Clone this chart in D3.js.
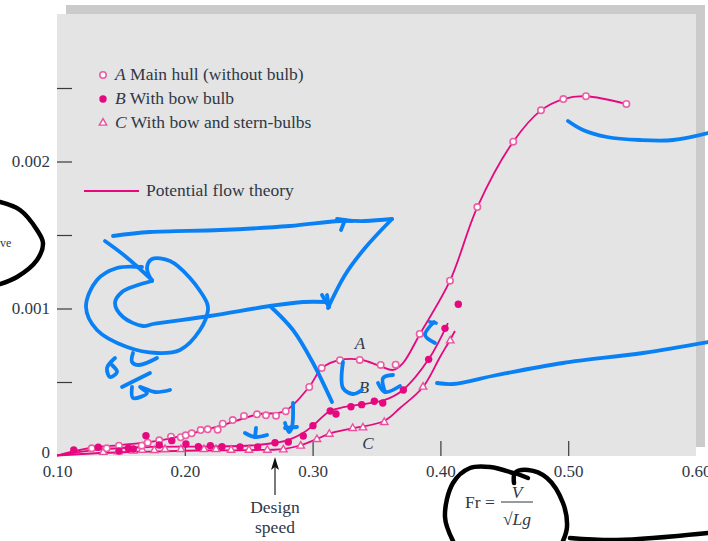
<!DOCTYPE html>
<html>
<head>
  <meta charset="UTF-8">
  <title>Wave resistance vs Froude number</title>
  <script src="https://d3js.org/d3.v7.min.js"></script>
  <style>
    html, body { margin: 0; padding: 0; background: #fff; overflow: hidden; }
    svg { display: block; }
    text { font-family: "Liberation Serif", serif; fill: #2f3846; }
    .it { font-style: italic; }
    .axis line { stroke: #3a3a3a; stroke-width: 1.2; }
    .axis text { font-size: 17px; font-family: "Liberation Serif", serif; fill: #2f3846; }
    .scribble { fill: none; stroke-linecap: round; stroke-linejoin: round; }
  </style>
</head>
<body>
  <div id="chart"></div>
  <script>
    // measured hull points, [Fr, coefficient]
    const pointsA = [[.1272,.000049],[.1389,.000049],[.1485,.000067],[.1663,.000067],[.1710,.000087],[.1800,.000103],[.1892,.000128],[.1968,.000124],[.2007,.000137],[.2054,.000151],[.2124,.000173],[.2179,.000178],[.2257,.000176],[.2297,.000216],[.2375,.000241],[.2463,.000269],[.2565,.000280],[.2635,.000273],[.2714,.000271],[.2790,.000301],[.2974,.000466],[.3071,.000595],[.3214,.000648],[.3369,.000650],[.3533,.000616],[.3650,.000618],[.3838,.000827],[.4075,.001189],[.4289,.001690],[.4570,.002135],[.4787,.002348],[.4962,.002425],[.5139,.002444],[.5455,.002391]];
    const pointsB = [[.1131,.000037],[.1323,.000056],[.1485,.000031],[.1558,.000049],[.1597,.000044],[.1696,.000135],[.1800,.000071],[.1898,.000101],[.2009,.000078],[.2106,.000060],[.2200,.000067],[.2291,.000060],[.2432,.000058],[.2570,.000058],[.2706,.000087],[.2810,.000092],[.2927,.000133],[.3003,.000203],[.3138,.000303],[.3183,.000282],[.3300,.000332],[.3384,.000346],[.3483,.000369],[.3549,.000357],[.3710,.000446],[.3908,.000654],[.4036,.000865],[.4140,.001029]];
    const pointsC = [[.1362,.000022],[.1480,.000026],[.1597,.000031],[.1667,.000037],[.1761,.000035],[.1845,.000042],[.1970,.000042],[.2150,.000042],[.2244,.000042],[.2362,.000037],[.2502,.000037],[.2646,.000037],[.2771,.000039],[.2907,.000065],[.3034,.000110],[.3131,.000146],[.3314,.000185],[.3394,.000189],[.3561,.000226],[.3864,.000466],[.4077,.000781]];

    // potential flow theory curves
    const theoryA = [[.10,0],[.1258,.000051],[.1493,.000071],[.1728,.000092],[.2002,.000139],[.2275,.000201],[.2565,.000279],[.2784,.000303],[.2972,.000466],[.3074,.000595],[.3214,.00065],[.3371,.000653],[.3527,.000609],[.3629,.000582],[.3707,.000629],[.3840,.000827],[.4075,.001189],[.4289,.00169],[.4570,.002135],[.4787,.002348],[.4962,.002425],[.5139,.002444],[.5455,.002391]];
    const theoryB = [[.10,0],[.1336,.000041],[.1728,.000058],[.2119,.000061],[.2510,.000068],[.2698,.000085],[.2808,.000105],[.2925,.000153],[.3003,.000203],[.3136,.000303],[.3254,.00033],[.3449,.000357],[.3566,.000378],[.3707,.000446],[.3909,.000656],[.4059,.000901]];
    const theoryC = [[.10,0],[.1336,.000017],[.1728,.000027],[.2119,.000034],[.2510,.000037],[.2768,.000044],[.2901,.000068],[.3034,.000112],[.3136,.00015],[.3308,.000184],[.3559,.000235],[.3684,.000323],[.3864,.000466],[.3997,.000670],[.4075,.000786],[.4114,.000847]];

    const xTicks = [0.10, 0.20, 0.30, 0.40, 0.50, 0.60];
    const yTicks = [0, 0.0005, 0.001, 0.0015, 0.002, 0.0025];
    const yLabels = { 0: "0", 0.001: "0.001", 0.002: "0.002" };
    const legendRows = [
      { sym: "A", kind: "circle", text: " Main hull (without bulb)" },
      { sym: "B", kind: "dot", text: " With bow bulb" },
      { sym: "C", kind: "tri", text: " With bow and stern-bulbs" }
    ];

    // pen strokes written over the figure (pixel positions on the page)
    const blueStrokes = [
      [[113,236],[150,232],[220,230],[290,226],[340,221],[365,221],[392,219]],
      [[392,219],[365,248],[345,275],[328,308]],
      [[105,241],[125,256],[152,280]],
      [[337,219],[352,221]], [[345,220],[341,230]],
      [[322,295],[329,307]], [[327,295],[329,307]],
      [[142,267],[117,268],[97,280],[86,307],[97,330],[127,347],[157,353],[180,350],[200,330],[208,310],[207,303],[190,278],[170,261],[152,259],[147,268],[152,281]],
      [[152,281],[135,286],[122,292],[115,303],[123,317],[143,326],[153,324],[210,316],[270,306],[303,302],[328,302]],
      [[270,306],[293,330],[313,363],[332,402]],
      [[133,353],[132,362],[139,365],[157,358]],
      [[115,358],[107,368],[110,377],[117,372],[112,365]],
      [[150,373],[122,387]],
      [[132,387],[133,398],[147,393],[140,387],[155,392],[170,390]],
      [[256,428],[255,437]], [[245,433],[255,437],[267,435]],
      [[293,403],[292,427],[289,432],[285,423]], [[285,428],[297,427]],
      [[343,362],[343,388],[353,394],[362,390]],
      [[393,375],[383,378],[385,392]], [[378,383],[385,392],[400,386]],
      [[434,322],[425,335],[435,343]], [[430,322],[436,323]],
      [[568,121],[583,130],[607,137],[640,140],[673,140],[708,133]],
      [[437,383],[453,384],[497,375],[563,363],[643,353],[708,342]]
    ];
    const blackStrokes = [
      [[0,202],[20,210],[37,230],[43,243],[37,260],[17,277],[0,284]],
      [[453,541],[445,517],[453,483],[470,468],[490,467],[513,473]],
      [[514,483],[515,473],[528,470],[547,478],[563,503],[567,527],[563,541]],
      [[515,473],[528,478]],
      [[570,538],[617,540],[708,533]]
    ];

    const pink = "#e5087e";
    const width = 708, height = 541;

    const x = d3.scaleLinear().domain([0.10, 0.60]).range([57, 696]);
    const y = d3.scaleLinear().domain([0, 0.003]).range([455.5, 14.5]);

    const svg = d3.select("#chart").append("svg")
      .attr("width", width)
      .attr("height", height);

    // shadow panel behind the plot
    svg.append("rect").attr("x", 66).attr("y", 5).attr("width", 639).attr("height", 442).attr("fill", "#cbcbcb");
    svg.append("rect").attr("x", 57).attr("y", 14).attr("width", 639).attr("height", 442).attr("fill", "#e4e4e4");

    const xAxis = svg.append("g")
      .attr("class", "axis")
      .attr("transform", "translate(0,456)")
      .call(d3.axisBottom(x).tickValues(xTicks).tickSize(-15).tickPadding(9).tickFormat(d3.format(".2f")));
    xAxis.select(".domain").remove();
    xAxis.selectAll(".tick").filter(d => d === 0.10 || d === 0.60).select("line").remove();

    const yAxis = svg.append("g")
      .attr("class", "axis")
      .attr("transform", "translate(57,0)")
      .call(d3.axisLeft(y).tickValues(yTicks).tickSize(-15).tickPadding(7).tickFormat(d => yLabels[d] || ""));
    yAxis.select(".domain").remove();
    yAxis.selectAll(".tick").filter(d => d === 0).select("line").remove();
    yAxis.selectAll(".tick").filter(d => d === 0).select("text").attr("dy", "0.1em");

    const lineGen = d3.line().x(d => x(d[0])).y(d => y(d[1])).curve(d3.curveCatmullRom.alpha(0.5));

    [theoryA, theoryB, theoryC].forEach(s => {
      svg.append("path")
        .attr("d", lineGen(s))
        .attr("fill", "none")
        .attr("stroke", pink)
        .attr("stroke-width", 1.8);
    });

    const triangle = d3.symbol().type(d3.symbolTriangle).size(24);
    const drawMark = (sel, kind) => {
      if (kind === "dot") {
        sel.append("circle").attr("r", 3.7).attr("fill", pink);
      } else if (kind === "circle") {
        sel.append("circle").attr("r", 3.2).attr("fill", "#fff").attr("stroke", "#ea5fa5").attr("stroke-width", 1.6);
      } else {
        sel.append("path").attr("d", triangle).attr("fill", "#fff").attr("stroke", "#ea4f9d").attr("stroke-width", 1.4);
      }
    };

    const addPoints = (data, kind) => {
      svg.append("g").selectAll("g")
        .data(data)
        .enter()
        .append("g")
        .attr("transform", d => `translate(${x(d[0])},${y(d[1])})`)
        .call(drawMark, kind);
    };
    addPoints(pointsC, "tri");
    addPoints(pointsA, "circle");
    addPoints(pointsB, "dot");

    // legend
    legendRows.forEach((r, i) => {
      const yy = 75 + i * 24;
      svg.append("g").attr("transform", `translate(103,${yy})`).call(drawMark, r.kind);
      const t = svg.append("text").attr("x", 115).attr("y", yy + 5).attr("font-size", 17.5).attr("xml:space", "preserve");
      t.append("tspan").attr("class", "it").text(r.sym);
      t.append("tspan").text(r.text);
    });
    svg.append("line").attr("x1", 84).attr("x2", 139).attr("y1", 191).attr("y2", 191).attr("stroke", pink).attr("stroke-width", 2);
    svg.append("text").attr("x", 146).attr("y", 196).attr("font-size", 17.5).text("Potential flow theory");

    // curve letters
    svg.append("text").attr("class", "it").attr("x", 360).attr("y", 349).attr("font-size", 17).attr("text-anchor", "middle").text("A");
    svg.append("text").attr("class", "it").attr("x", 364).attr("y", 393).attr("font-size", 17).attr("text-anchor", "middle").text("B");
    svg.append("text").attr("class", "it").attr("x", 368).attr("y", 449).attr("font-size", 17).attr("text-anchor", "middle").text("C");

    // design speed arrow
    svg.append("line").attr("x1", 275).attr("x2", 275).attr("y1", 495).attr("y2", 460).attr("stroke", "#222").attr("stroke-width", 1.2);
    svg.append("path").attr("d", "M275,457L279,470L275,467L271,470Z").attr("fill", "#111");
    svg.append("text").attr("x", 275).attr("y", 513).attr("font-size", 17.5).attr("text-anchor", "middle").text("Design");
    svg.append("text").attr("x", 275).attr("y", 533).attr("font-size", 17.5).attr("text-anchor", "middle").text("speed");

    // Fr equation
    svg.append("text").attr("x", 465).attr("y", 508).attr("font-size", 17.5).text("Fr =");
    svg.append("text").attr("class", "it").attr("x", 517).attr("y", 498).attr("font-size", 17.5).attr("text-anchor", "middle").text("V");
    svg.append("line").attr("x1", 501).attr("x2", 533).attr("y1", 502).attr("y2", 502).attr("stroke", "#2f3846").attr("stroke-width", 1);
    const root = svg.append("text").attr("x", 503).attr("y", 525).attr("font-size", 17.5);
    root.append("tspan").text("√");
    root.append("tspan").attr("class", "it").text("Lg");

    // cut-off word at the left edge
    svg.append("text").attr("x", 0).attr("y", 247).attr("font-size", 12).text("ve");

    // pen annotations on top
    const pen = d3.line().curve(d3.curveCatmullRom.alpha(0.5));
    svg.append("g").selectAll("path").data(blueStrokes).enter().append("path")
      .attr("class", "scribble")
      .attr("d", pen)
      .attr("stroke", "#0a80f5")
      .attr("stroke-width", 3.8);
    svg.append("g").selectAll("path").data(blackStrokes).enter().append("path")
      .attr("class", "scribble")
      .attr("d", pen)
      .attr("stroke", "#000")
      .attr("stroke-width", 4.5);
  </script>
</body>
</html>
